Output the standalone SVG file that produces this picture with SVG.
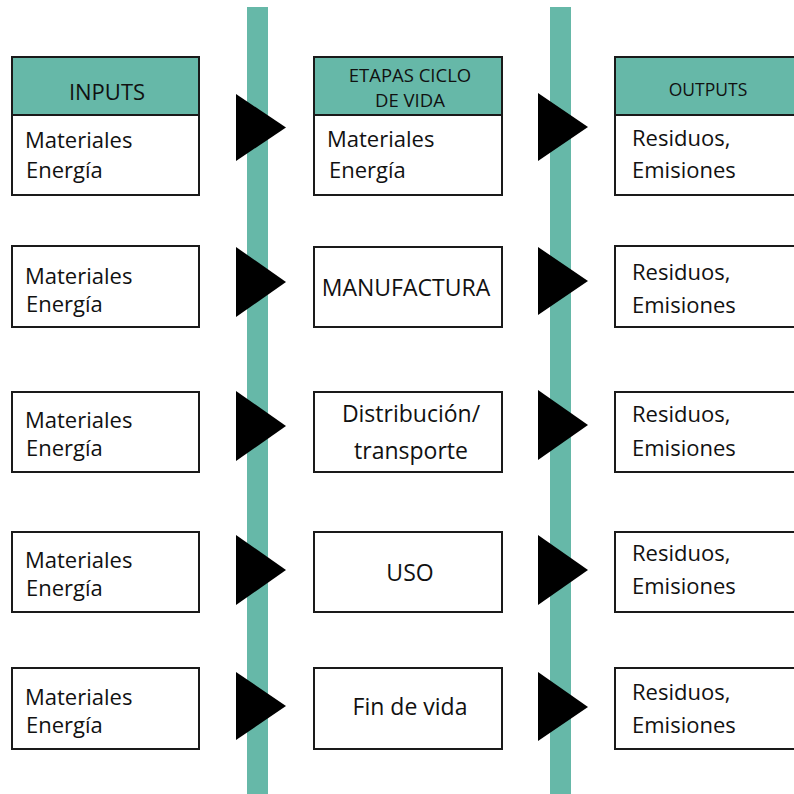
<svg xmlns="http://www.w3.org/2000/svg" width="794" height="794" viewBox="0 0 794 794">
  <style>
    .box { fill: #ffffff; stroke: #1a1a1a; stroke-width: 2; }
    .head { fill: #66b8a8; stroke: #1a1a1a; stroke-width: 2; }
    .bar { fill: #66b8a8; }
    .arrow { fill: #000000; }
    text { font-family: "Open Sans", "Liberation Sans", sans-serif; fill: #111111; }
    .t { font-size: 22px; }
    .c { font-size: 23px; text-anchor: middle; }
    .h { font-size: 22px; text-anchor: middle; }
    .hs { font-size: 18.5px; text-anchor: middle; }
    .ho { font-size: 17.5px; text-anchor: middle; }
  </style>

  <!-- vertical flow bands -->
  <rect class="bar" x="247" y="7" width="21" height="787"/>
  <rect class="bar" x="550" y="7" width="21" height="787"/>

  <!-- left column: inputs -->
  <g id="inputs-1">
    <rect class="head" x="12" y="57" width="187" height="58"/>
    <rect class="box" x="12" y="115" width="187" height="80"/>
    <text class="h" x="107" y="100">INPUTS</text>
    <text class="t" x="25" y="148">Materiales</text>
    <text class="t" x="26" y="178">Energía</text>
  </g>
  <g id="inputs-2">
    <rect class="box" x="12" y="246" width="187" height="81"/>
    <text class="t" x="25" y="284">Materiales</text>
    <text class="t" x="26" y="312">Energía</text>
  </g>
  <g id="inputs-3">
    <rect class="box" x="12" y="392" width="187" height="80"/>
    <text class="t" x="25" y="428">Materiales</text>
    <text class="t" x="26" y="456">Energía</text>
  </g>
  <g id="inputs-4">
    <rect class="box" x="12" y="532" width="187" height="80"/>
    <text class="t" x="25" y="568">Materiales</text>
    <text class="t" x="26" y="596">Energía</text>
  </g>
  <g id="inputs-5">
    <rect class="box" x="12" y="668" width="187" height="81"/>
    <text class="t" x="25" y="705">Materiales</text>
    <text class="t" x="26" y="733">Energía</text>
  </g>

  <!-- middle column: life-cycle stages -->
  <g id="stage-1">
    <rect class="head" x="314" y="57" width="188" height="58"/>
    <rect class="box" x="314" y="115" width="188" height="80"/>
    <text class="hs" x="410" y="82">ETAPAS CICLO</text>
    <text class="hs" x="410" y="107">DE VIDA</text>
    <text class="t" x="327" y="147">Materiales</text>
    <text class="t" x="329" y="178">Energía</text>
  </g>
  <g id="stage-2">
    <rect class="box" x="314" y="247" width="188" height="80"/>
    <text class="c" x="406" y="296">MANUFACTURA</text>
  </g>
  <g id="stage-3">
    <rect class="box" x="314" y="392" width="188" height="80"/>
    <text class="c" x="411" y="422">Distribución/</text>
    <text class="c" x="411" y="459">transporte</text>
  </g>
  <g id="stage-4">
    <rect class="box" x="314" y="532" width="188" height="80"/>
    <text class="c" x="410" y="581">USO</text>
  </g>
  <g id="stage-5">
    <rect class="box" x="314" y="668" width="188" height="81"/>
    <text class="c" x="410" y="715">Fin de vida</text>
  </g>

  <!-- right column: outputs -->
  <g id="outputs-1">
    <rect class="head" x="615" y="57" width="190" height="58"/>
    <rect class="box" x="615" y="115" width="190" height="80"/>
    <text class="ho" x="708" y="96">OUTPUTS</text>
    <text class="t" x="632" y="146">Residuos,</text>
    <text class="t" x="632" y="178">Emisiones</text>
  </g>
  <g id="outputs-2">
    <rect class="box" x="615" y="246" width="190" height="81"/>
    <text class="t" x="632" y="280">Residuos,</text>
    <text class="t" x="632" y="313">Emisiones</text>
  </g>
  <g id="outputs-3">
    <rect class="box" x="615" y="392" width="190" height="80"/>
    <text class="t" x="632" y="422">Residuos,</text>
    <text class="t" x="632" y="456">Emisiones</text>
  </g>
  <g id="outputs-4">
    <rect class="box" x="615" y="532" width="190" height="80"/>
    <text class="t" x="632" y="561">Residuos,</text>
    <text class="t" x="632" y="594">Emisiones</text>
  </g>
  <g id="outputs-5">
    <rect class="box" x="615" y="668" width="190" height="81"/>
    <text class="t" x="632" y="700">Residuos,</text>
    <text class="t" x="632" y="733">Emisiones</text>
  </g>

  <!-- flow arrows across the bands -->
  <g id="connectors">
    <polygon class="arrow" points="236,94 286,127.5 236,161"/>
    <polygon class="arrow" points="236,247 286,282 236,317"/>
    <polygon class="arrow" points="236,391 286,426 236,461"/>
    <polygon class="arrow" points="236,535 286,570 236,605"/>
    <polygon class="arrow" points="236,672 286,706 236,740"/>

    <polygon class="arrow" points="538,93 588,127 538,161"/>
    <polygon class="arrow" points="538,247 588,281 538,315"/>
    <polygon class="arrow" points="538,390 588,425 538,460"/>
    <polygon class="arrow" points="538,535 588,570 538,605"/>
    <polygon class="arrow" points="538,672 588,707 538,741"/>
  </g>
</svg>
